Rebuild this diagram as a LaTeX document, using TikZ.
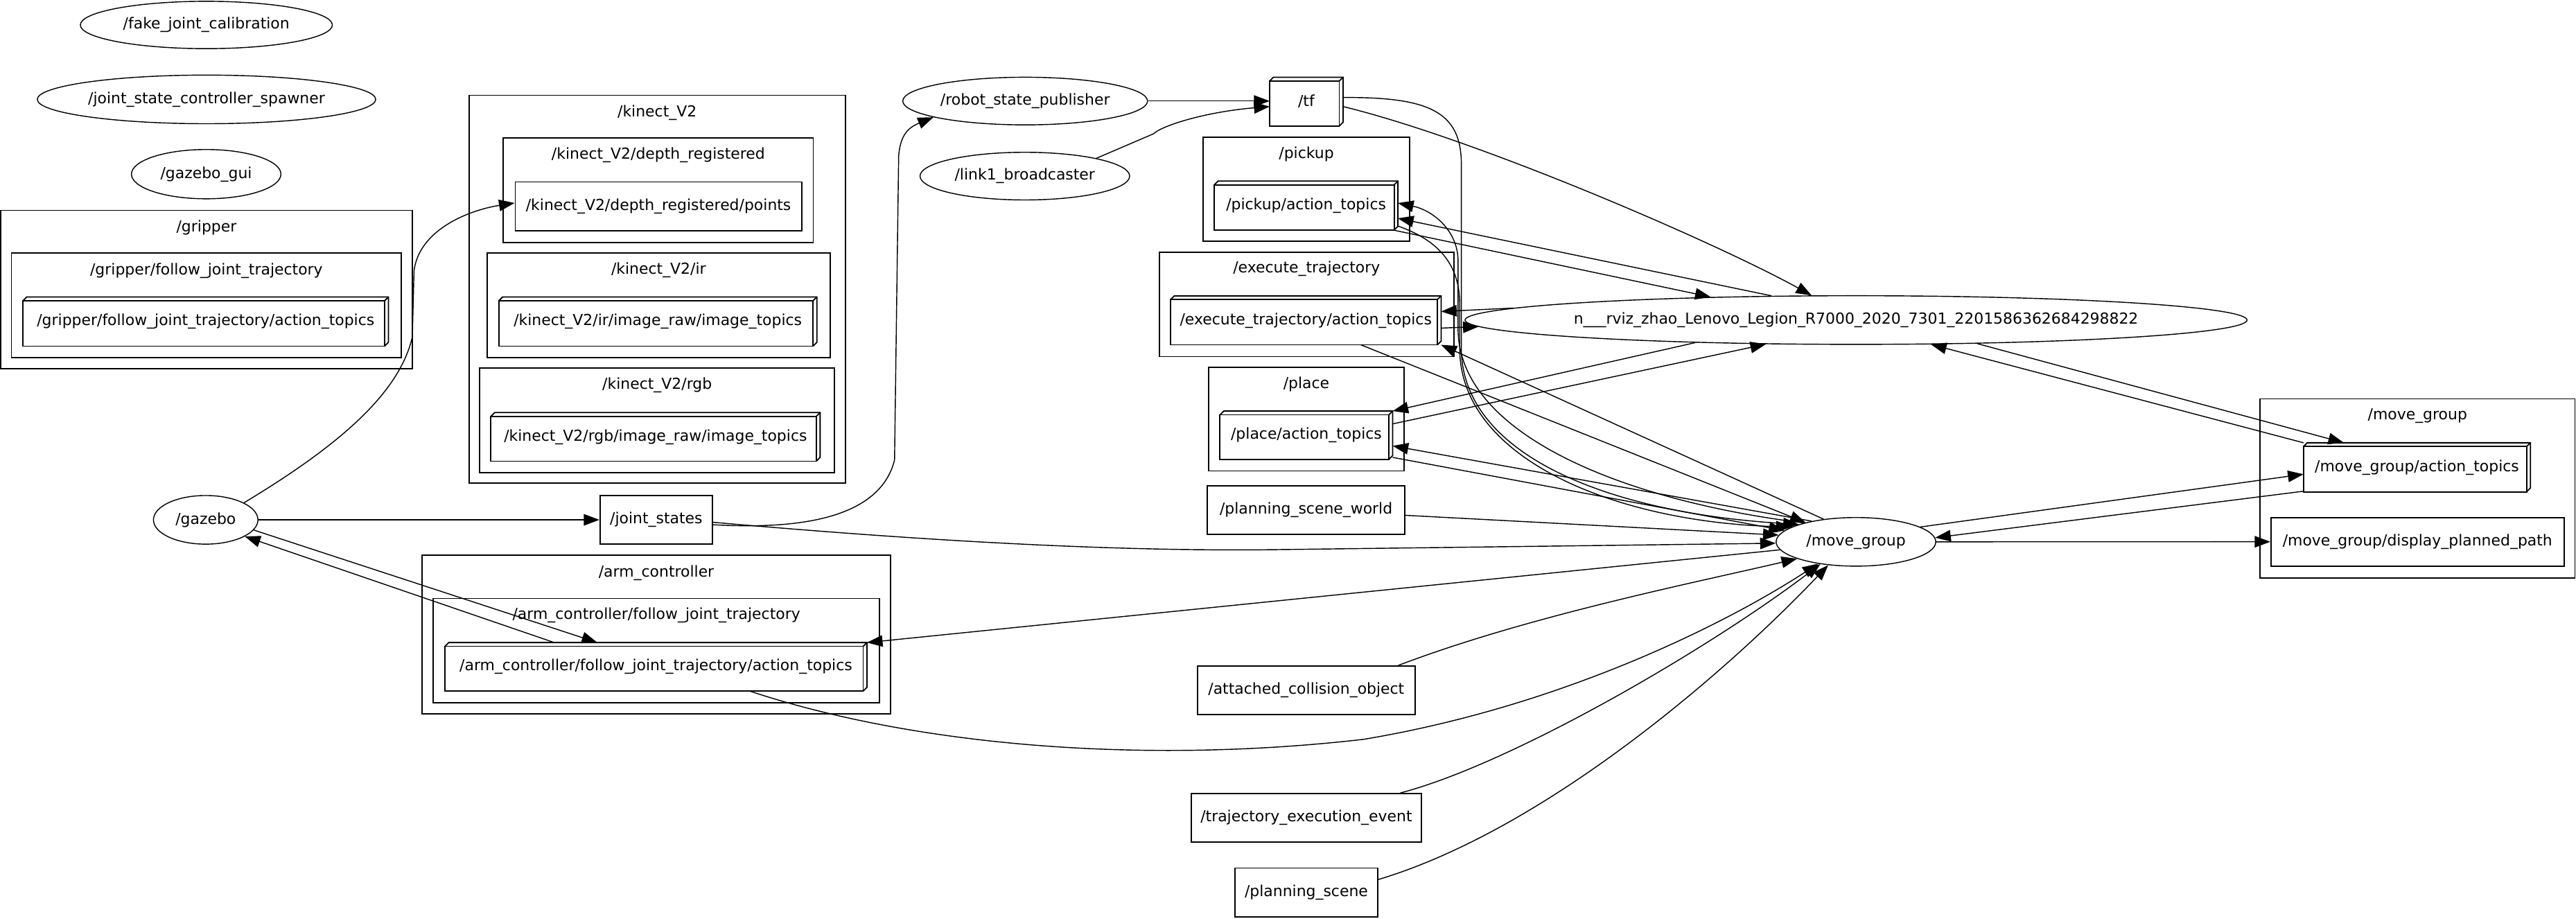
\documentclass[tikz,border=0pt]{standalone}
\usepackage{fontspec}
\setmainfont{DejaVu Sans}
\usetikzlibrary{arrows.meta,shapes.geometric,calc}
\newcommand{\lblfont}{\fontsize{9.25}{11}\selectfont}
\begin{document}
\begin{tikzpicture}[x=1pt,y=-1pt,font=\lblfont,
  ell/.style={draw,ellipse,line width=0.6pt,inner sep=0pt},
  rbox/.style={draw,rectangle,line width=0.75pt,inner sep=0pt},
  bthree/.style={rectangle,inner sep=0pt},
  clus/.style={draw,rectangle,line width=0.75pt,inner sep=0pt},
  conn/.style={line width=0.6pt,-{Triangle[length=9.5pt,width=7pt]}},
  threed/.style={line width=0.75pt}
  ]
\fill[white] (0,0) rectangle (1568,559);
\useasboundingbox (0,0) rectangle (1568,559);

% clusters
\node[clus,minimum width=250.5pt,minimum height=96.5pt] (cgrip) at (125.75,176.25) {};
\node (lgrip) at (125.7,138.6) {/gripper};
\node[clus,minimum width=237.3pt,minimum height=63.7pt] (cgfjt) at (125.65,185.85) {};
\node (lgfjt) at (125.65,165) {/gripper/follow\_joint\_trajectory};
\node[clus,minimum width=229pt,minimum height=236pt] (ckin) at (400,176) {};
\node (lkin) at (400,68.6) {/kinect\_V2};
\node[clus,minimum width=188.6pt,minimum height=63.7pt] (cdep) at (400.7,115.85) {};
\node (ldep) at (400.7,94.2) {/kinect\_V2/depth\_registered};
\node[clus,minimum width=208.6pt,minimum height=63.7pt] (cir) at (400.9,185.85) {};
\node (lir) at (400.9,164.5) {/kinect\_V2/ir};
\node[clus,minimum width=216pt,minimum height=63.6pt] (crgb) at (400,255.8) {};
\node (lrgb) at (400,234.5) {/kinect\_V2/rgb};
\node[clus,minimum width=285pt,minimum height=96.5pt] (carm) at (399.5,386.25) {};
\node (larm) at (399.5,348.7) {/arm\_controller};
\node[clus,minimum width=271.5pt,minimum height=63.5pt] (cafjt) at (399.55,396.05) {};
\node (lafjt) at (399.55,374.7) {/arm\_controller/follow\_joint\_trajectory};
\node[clus,minimum width=125.6pt,minimum height=63.3pt] (cpick) at (795.2,115.15) {};
\node (lpick) at (795.2,93.8) {/pickup};
\node[clus,minimum width=179.2pt,minimum height=63.4pt] (cexec) at (795.3,185.3) {};
\node (lexec) at (795.3,163.7) {/execute\_trajectory};
\node[clus,minimum width=118.9pt,minimum height=63.1pt] (cplace) at (795.15,255.05) {};
\node (lplace) at (795.15,234) {/place};
\node[clus,minimum width=191.6pt,minimum height=109pt] (cmg) at (1471.5,297.3) {};
\node (lmg) at (1471.5,253.1) {/move\_group};

% ellipse nodes
\node[ell,minimum width=153.4pt,minimum height=28.8pt,label={center:/fake\_joint\_calibration}] (fjc) at (125.6,15.2) {};
\node[ell,minimum width=206pt,minimum height=29.6pt,label={center:/joint\_state\_controller\_spawner}] (jscs) at (125.7,60.5) {};
\node[ell,minimum width=91pt,minimum height=30pt,label={center:/gazebo\_gui}] (ggui) at (125.5,106) {};
\node[ell,minimum width=63.6pt,minimum height=29.6pt,label={center:/gazebo}] (gazebo) at (125.2,316.4) {};
\node[ell,minimum width=149pt,minimum height=29pt,label={center:/robot\_state\_publisher}] (rsp) at (624,61.5) {};
\node[ell,minimum width=127.6pt,minimum height=29pt,label={center:/link1\_broadcaster}] (link1) at (623.8,107.2) {};
\node[ell,minimum width=476pt,minimum height=29.6pt,label={center:n\_\_\_rviz\_zhao\_Lenovo\_Legion\_R7000\_2020\_7301\_2201586362684298822}] (rviz) at (1129.75,194.8) {};
\node[ell,minimum width=97.2pt,minimum height=29.6pt,label={center:/move\_group}] (mg) at (1129.7,329.8) {};

% plain topic boxes
\node[rbox,minimum width=68.5pt,minimum height=29.6pt] (jstates) at (399.45,316.4) {/joint\_states};
\node[rbox,minimum width=174.4pt,minimum height=29.7pt] (points) at (400.8,125.55) {/kinect\_V2/depth\_registered/points};
\node[rbox,minimum width=120pt,minimum height=29.7pt] (psw) at (795,310.45) {/planning\_scene\_world};
\node[rbox,minimum width=132.6pt,minimum height=29.6pt] (aco) at (795.1,420.2) {/attached\_collision\_object};
\node[rbox,minimum width=140.3pt,minimum height=29.6pt] (tee) at (795.15,497.8) {/trajectory\_execution\_event};
\node[rbox,minimum width=87.1pt,minimum height=29.6pt] (ps) at (795.15,543.2) {/planning\_scene};
\node[rbox,minimum width=178.4pt,minimum height=29.5pt] (dpp) at (1471.5,329.75) {/move\_group/display\_planned\_path};

% 3D topic boxes
\node[bthree,minimum width=222pt,minimum height=29.5pt] (gripat) at (125.2,195.75) {/gripper/follow\_joint\_trajectory/action\_topics};
\node[bthree,minimum width=193.2pt,minimum height=29.5pt] (irat) at (400.4,195.75) {/kinect\_V2/ir/image\_raw/image\_topics};
\node[bthree,minimum width=200pt,minimum height=29.2pt] (rgbat) at (399,265.9) {/kinect\_V2/rgb/image\_raw/image\_topics};
\node[bthree,minimum width=256.5pt,minimum height=29.1pt] (armat) at (399.25,405.85) {/arm\_controller/follow\_joint\_trajectory/action\_topics};
\node[bthree,minimum width=44.3pt,minimum height=29.3pt] (tf) at (795.15,61.85) {/tf};
\node[bthree,minimum width=111.4pt,minimum height=29.4pt] (pickat) at (795,125.1) {/pickup/action\_topics};
\node[bthree,minimum width=164.3pt,minimum height=29.4pt] (execat) at (794.85,195) {/execute\_trajectory/action\_topics};
\node[bthree,minimum width=104.7pt,minimum height=29pt] (placeat) at (795.15,264.9) {/place/action\_topics};
\node[bthree,minimum width=137.7pt,minimum height=29.5pt] (mgat) at (1471.15,284.45) {/move\_group/action\_topics};

\def\dd{2.3pt}
\foreach \n in {gripat,irat,rgbat,armat,tf,pickat,execat,placeat,mgat}{
  \draw[threed] ([yshift=-\dd]\n.north west) rectangle ([xshift=-\dd]\n.south east);
  \draw[threed] ([yshift=-\dd]\n.north west) -- ([xshift=\dd]\n.north west) -- (\n.north east) -- ([yshift=\dd]\n.south east) -- ([xshift=-\dd]\n.south east);
  \draw[threed] ([xshift=-\dd,yshift=-\dd]\n.north east) -- (\n.north east);
}

% connectors
\draw[conn] (gazebo.east) -- (jstates.west);
\draw[conn] (gazebo.-12) -- ([xshift=92.8pt]armat.north west);
\draw[conn] ([xshift=66.6pt]armat.north west) -- (gazebo.-23);
\draw[conn] (gazebo.24) .. controls (205,272) and (243,240) .. (251,205) -- (252,165) .. controls (255,140) and (285,128) .. ([yshift=2pt]points.west);
\draw[conn] ([yshift=-3pt]jstates.east) .. controls (480,322) and (535,318) .. (544.5,280) -- (547,95) .. controls (548,83) and (552,78) .. (rsp.190);
\draw[conn] ([yshift=-1.5pt]jstates.east) .. controls (560,329) and (680,336) .. (780,334.5) -- (mg.181);
\draw[conn] ([xshift=185.4pt]armat.south west) .. controls (560,455) and (700,465) .. (830,450) .. controls (950,430) and (1050,380) .. (mg.210);
\draw[conn] (mg.186) -- (armat.north east);
\draw[conn] (rsp.east) -- (rsp.east -| tf.west);
\draw[conn] (link1.14) -- (702,81.5) .. controls (708,76) and (735,68) .. ([yshift=-3pt]tf.west);
\draw[conn] ([yshift=-3pt]tf.east) .. controls (900,85) and (1045,148) .. (rviz.151);
\draw[conn] ([yshift=2.5pt]tf.east) .. controls (870,59) and (889.5,68) .. (889.5,100) -- (889.5,212) .. controls (889.5,275) and (975,312) .. (mg.163);
\draw[conn] (mg.160) .. controls (990,305) and (887.5,265) .. (887.5,200) -- (887.5,158) .. controls (887,140) and (872,128) .. ([yshift=1.5pt]pickat.east);
\draw[conn] ([yshift=-12.5pt]pickat.east) .. controls (872,145) and (888.5,158) .. (888.5,185) -- (888.5,212) .. controls (888.5,280) and (985,318) .. (mg.167);
\draw[conn] (rviz.164) -- ([yshift=-7.8pt]pickat.east);
\draw[conn] ([xshift=-3pt]pickat.south east) -- (rviz.171);
\draw[conn] (rviz.178.6) -- ([yshift=5.4pt]execat.east);
\draw[conn] ([yshift=-4.7pt]execat.east) -- (rviz.181.25);
\draw[conn] (mg.145) -- (execat.south east);
\draw[conn] ([xshift=33.5pt]execat.south) -- (mg.159);
\draw[conn] (rviz.188.7) -- (placeat.north east);
\draw[conn] ([yshift=6.9pt]placeat.east) -- (rviz.195);
\draw[conn] (mg.155) -- ([yshift=-6.5pt]placeat.east);
\draw[conn] ([yshift=-13.5pt]placeat.east) -- (mg.171);
\draw[conn] ([yshift=-3.2pt]psw.east) -- (mg.175);
\draw[conn] ([xshift=-10.7pt]aco.north east) .. controls (930,375) and (1030,355) .. (mg.196);
\draw[conn] ([xshift=-13.3pt]tee.north east) .. controls (920,465) and (1040,395) .. (mg.212);
\draw[conn] ([yshift=7.9pt]ps.east) .. controls (940,505) and (1050,410) .. (mg.220);
\draw[conn] (mg.13) -- ([yshift=-4.2pt]mgat.west);
\draw[conn] ([yshift=0.4pt]mgat.south west) -- (mg.3);
\draw[conn] (mg.east) -- (dpp.west);
\draw[conn] (mgat.north west) -- (rviz.-18);
\draw[conn] (rviz.-11.2) -- ([xshift=24.6pt]mgat.north west);
\end{tikzpicture}
\end{document}
